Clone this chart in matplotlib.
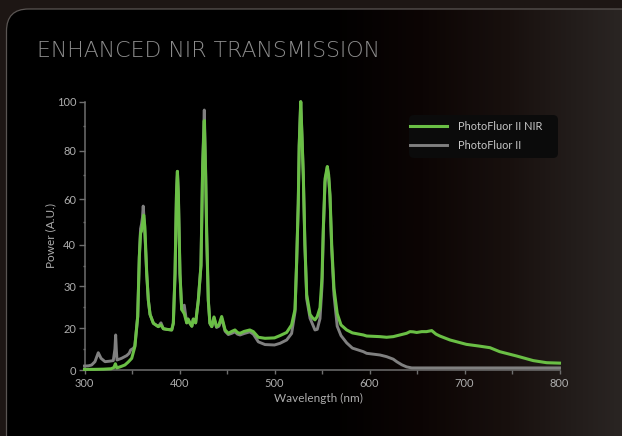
# PhotoFluor II vs PhotoFluor II NIR transmission spectrum
import numpy as np
import matplotlib.pyplot as plt
from matplotlib.patches import FancyBboxPatch
from matplotlib.colors import LinearSegmentedColormap

plt.rcParams['font.family'] = ['Lato', 'DejaVu Sans']

# PhotoFluor II NIR (green)
nir_nm = [300, 310, 320, 328, 331, 332.5, 334, 338, 342.5, 346, 349.7, 353, 356, 357.7, 359, 360, 361, 362.3,
          363.5, 365.5, 367.2, 369, 372.5, 377.7, 380.5, 383, 386.5, 391.8, 393.5, 395.3, 396.8, 397.8, 398.8,
          400.5, 402.3, 405, 407.6, 409, 411, 413, 414.5, 417, 419.8, 422.6, 424.4, 426.1, 427.5, 428.6, 430.3,
          432, 434, 436.3, 439, 441.5, 444.4, 448, 451.4, 455, 458.4, 461, 463.7, 468, 474, 477.7, 483, 490,
          500, 505.8, 512.8, 518, 521.6, 523.3, 525, 526, 527.6, 529, 530.3, 532, 533.9, 537.4, 540, 542.6, 545,
          547.9, 550, 551.4, 553.2, 555.6, 557, 558.4, 560.2, 562.6, 566, 570, 576, 582, 593.5, 597, 611, 618,
          625, 632, 639, 642.6, 646, 649.7, 655, 660, 665.5, 670, 674, 684.7, 702, 715, 726.8, 737, 755, 772.4,
          786.5, 800]
nir_val = [0.3, 0.3, 0.4, 0.6, 1.2, 3.0, 1.0, 1.6, 2.4, 3.8, 5.6, 11.2, 22.8, 37, 45, 46, 49, 53,
           48, 33, 26.7, 23.3, 21.2, 20.4, 20.8, 19.8, 19.5, 19.2, 21.2, 33, 62, 71.5, 62,
           33, 24.5, 23.5, 21.3, 22.2, 21.2, 20.5, 22.2, 21.3, 26.7, 35, 73.5, 92.3, 70, 45, 26.7,
           21.2, 20.4, 22.7, 20.4, 20.8, 22.8, 19.2, 17.6, 18.5, 19.2, 18, 17.6, 18.5, 19.2, 18.4, 15.7, 15.2,
           15.4, 16.5, 18, 20.8, 24.5, 35.8, 58, 82, 100, 85, 70, 40, 28, 23.3, 22.5, 22, 22.8,
           24.9, 32, 47.2, 68.4, 73.5, 70, 61.8, 40, 29.5, 23.5, 20.8, 19.2, 17.8, 16.8, 16.3, 16, 15.7,
           16, 16.8, 17.6, 18.4, 18.3, 18.0, 18.4, 18.4, 18.9, 17.2, 16.3, 14.4, 12.3, 11.5, 10.7, 8.8, 6.7, 4.5,
           3.5, 3.3]

# PhotoFluor II (gray)
pf_nm = [300, 304, 307.5, 311, 314.5, 317.4, 321.6, 326, 330.3, 332, 332.8, 333.6, 334.2, 339, 344.4, 347, 348.6,
         351.4, 353, 356, 357.7, 359, 360, 361, 361.8, 363, 365.5, 367.2, 369, 372.5, 377.7, 380.5, 383, 386.5,
         391.8, 393.5, 395.3, 396.8, 397.8, 398.8, 400.5, 402.3, 405, 407.6, 409, 411, 413, 414.5, 417, 419.8,
         422.6, 424.4, 426.1, 427.5, 428.6, 430.3, 432, 434, 436.3, 439, 441.5, 444.4, 448, 451.4, 455, 458.4,
         461, 463.7, 468, 474, 477.7, 483, 490, 500, 505.8, 512.8, 518, 521.6, 523.3, 525, 526, 527.6, 529,
         530.3, 532, 533.9, 537.4, 542.6, 545, 547.9, 550, 551.4, 553.2, 555.6, 557, 558.4, 560.2, 562.6, 566,
         570, 576, 582, 593.5, 597, 611, 618, 625, 628.6, 634, 639, 644.4, 650, 700, 750, 800]
pf_val = [1.9, 2.0, 2.4, 4, 8.3, 5.6, 4, 4.2, 4.5, 10, 16.8, 9, 4.8, 5.6, 6.9, 8, 9.6,
          10.4, 11.5, 22.8, 37, 47, 49, 52, 57, 50, 33, 26.7, 23.3, 21.2, 20.4, 21.3, 19.8, 19.5,
          19.2, 21.2, 33, 62, 71.5, 62, 33, 24.5, 25.5, 21.3, 22.2, 21.2, 20.5, 22.2, 21.3, 26.7,
          35, 75, 96.6, 72, 45, 26.7, 21.2, 20.4, 22.5, 20.2, 20.5, 22.4, 18.6, 17, 17.6, 18.3,
          17.2, 16.8, 17.5, 18.3, 17.2, 13.5, 12.2, 12, 12.8, 14.4, 17.5, 23.9, 35.8, 58, 82, 100, 85,
          70, 40, 27, 22.4, 19.2, 19.5, 22.3, 30, 46, 67, 73, 69, 61, 39, 28, 20.5,
          16.5, 13, 10.5, 8.8, 8.0, 7.2, 6.4, 5.2, 4, 2.5, 1.5, 1.0, 1.0, 1.0, 1.0, 1.0]

# y axis of the original is not linear: tick value -> height in pixels
y_tick_vals = [0, 20, 30, 40, 60, 80, 100]
y_tick_px = [0, 41.7, 83.7, 125.3, 170.7, 219.3, 268.3]
y_frac = np.array(y_tick_px) / y_tick_px[-1]


def fwd(v):
    return np.interp(v, y_tick_vals, y_frac)


def inv(f):
    return np.interp(f, y_frac, y_tick_vals)


W, H = 622, 436
fig = plt.figure(figsize=(W / 100, H / 100), dpi=100, facecolor='#1d1614')

# background panel with gradient
bg = fig.add_axes([0, 0, 1, 1])
bg.set_xlim(0, W)
bg.set_ylim(H, 0)
bg.axis('off')
panel = FancyBboxPatch((6.5, 9), 640, 460, boxstyle='round,pad=0,rounding_size=22',
                       facecolor='none', edgecolor='#5a5553', linewidth=0.9, zorder=3)
bg.add_patch(panel)
grad_cmap = LinearSegmentedColormap.from_list(
    'panel', [(0, '#000000'), (0.52, '#000000'), (0.68, '#0c0504'), (0.82, '#18100e'),
              (0.92, '#221c1a'), (1, '#2a2523')])
g = np.linspace(0, 1, 400).reshape(1, -1)
im = bg.imshow(g, cmap=grad_cmap, extent=(0, W, H, 0), aspect='auto', zorder=1)
im.set_clip_path(panel)

# legend box
bg.add_patch(FancyBboxPatch((409, 115), 149, 43, boxstyle='round,pad=0,rounding_size=5',
                            facecolor='#0b0b0b', edgecolor='none', zorder=2))

fig.text(37 / W, 1 - 57 / H, 'ENHANCED NIR TRANSMISSION', fontsize=15.8, color='#8c8c8c',
         family='DejaVu Sans', fontweight='light', va='baseline', ha='left', zorder=5)

ax = fig.add_axes([84.5 / W, (H - 370) / H, 475 / W, 268.3 / H])
ax.set_facecolor('none')
ax.set_yscale('function', functions=(fwd, inv))

ax.plot(pf_nm, pf_val, color='#808080', lw=2.1, label='PhotoFluor II', clip_on=False, zorder=3)
ax.plot(nir_nm, nir_val, color='#6abf45', lw=2.2, label='PhotoFluor II NIR', clip_on=False, zorder=4)

ax.set_xlim(300, 800)
ax.set_ylim(0, 100)
ax.set_xticks(range(300, 801, 100))
ax.set_xticks(range(350, 800, 100), minor=True)
ax.set_yticks(y_tick_vals)
ax.set_yticks([10, 25, 35, 50, 70, 90], minor=True)

for s in ['top', 'right']:
    ax.spines[s].set_visible(False)
for s in ['left', 'bottom']:
    ax.spines[s].set_color('#6e6e6e')
    ax.spines[s].set_linewidth(1.1)

ax.tick_params(axis='both', which='both', colors='#6e6e6e', labelcolor='#adadad', labelsize=8, width=1)
ax.tick_params(axis='y', which='major', length=4, pad=2)
ax.tick_params(axis='y', which='minor', length=1.8)
ax.tick_params(axis='x', which='both', length=3, pad=3)

fig.text(51 / W, 1 - 235 / H, 'Power (A.U.)', rotation=90, fontsize=8.5, color='#adadad',
         ha='center', va='center')
fig.text(318 / W, 1 - 398 / H, 'Wavelength (nm)', fontsize=8.5, color='#adadad',
         ha='center', va='center')

h, l = ax.get_legend_handles_labels()
leg = ax.legend(h[::-1], l[::-1], loc='upper left', bbox_to_anchor=((410 - 84.5) / 475, (370 - 121) / 268.3),
                frameon=False, fontsize=7.9, labelcolor='#c8c8c8', handlelength=3.4, handletextpad=1.0,
                borderpad=0, borderaxespad=0, labelspacing=0.7)

fig.savefig('out.png', dpi=100, facecolor=fig.get_facecolor())
